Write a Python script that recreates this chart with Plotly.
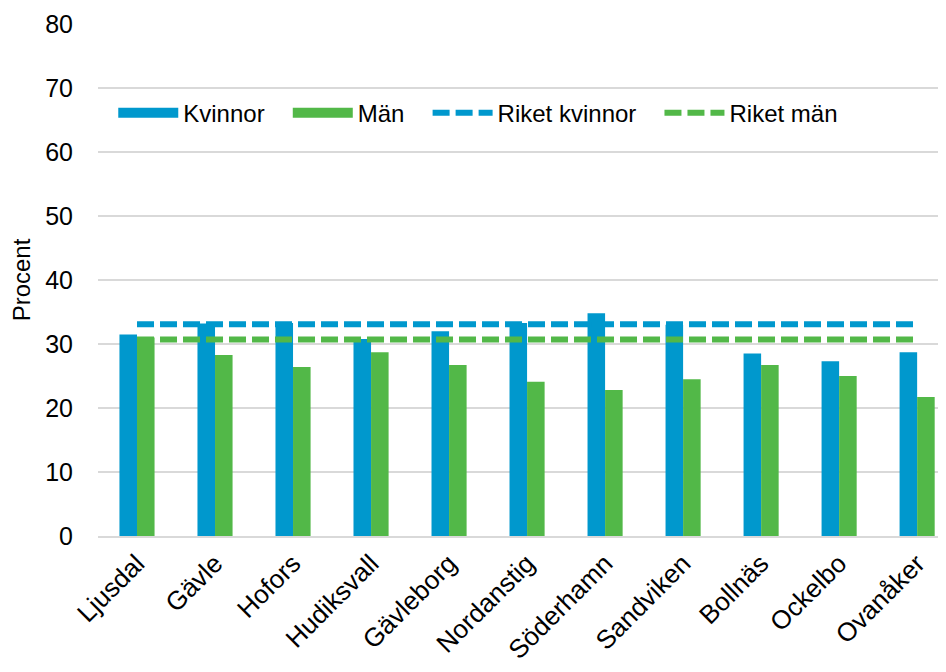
import plotly.graph_objects as go

categories = ["Ljusdal", "Gävle", "Hofors", "Hudiksvall", "Gävleborg", "Nordanstig",
              "Söderhamn", "Sandviken", "Bollnäs", "Ockelbo", "Ovanåker"]
kvinnor = [31.5, 33.2, 33.3, 30.8, 32.0, 33.3, 34.8, 33.0, 28.5, 27.3, 28.7]
man = [31.0, 28.3, 26.4, 28.7, 26.7, 24.1, 22.8, 24.5, 26.7, 25.0, 21.7]
riket_kvinnor = [33.1] * len(categories)
riket_man = [30.7] * len(categories)
legend_names = ["Kvinnor", "Män", "Riket kvinnor", "Riket män"]

BLUE = "#0098CD"
GREEN = "#52B848"
FONT = "Liberation Sans, Arial"
PAD = "\u00a0\u00a0\u2009"

fig = go.Figure()
fig.add_trace(go.Bar(x=categories, y=kvinnor, name=legend_names[0], marker_color=BLUE,
                     marker_line_width=0, showlegend=False, legendgroup="k"))
fig.add_trace(go.Bar(x=categories, y=man, name=legend_names[1], marker_color=GREEN,
                     marker_line_width=0, showlegend=False, legendgroup="m"))
# legend-only entries that show the bar series as wide swatches
fig.add_trace(go.Scatter(x=[None], y=[None], name=legend_names[0] + PAD, mode="lines",
                         line=dict(color=BLUE, width=14), legendgroup="k"))
fig.add_trace(go.Scatter(x=[None], y=[None], name=legend_names[1] + PAD, mode="lines",
                         line=dict(color=GREEN, width=14), legendgroup="m"))
fig.add_trace(go.Scatter(x=categories, y=riket_kvinnor, name=legend_names[2] + PAD,
                         mode="lines", line=dict(color=BLUE, width=6, dash="17px,6px")))
fig.add_trace(go.Scatter(x=categories, y=riket_man, name=legend_names[3],
                         mode="lines", line=dict(color=GREEN, width=6, dash="17px,6px")))

fig.update_layout(
    width=938, height=664,
    margin=dict(l=90, r=0, t=16, b=136),
    paper_bgcolor="white", plot_bgcolor="white",
    barmode="group", bargap=0.55, bargroupgap=0,
    font=dict(family=FONT, size=24, color="black"),
    showlegend=True,
    legend=dict(orientation="h", x=0.018, y=0.826, xanchor="left", yanchor="middle",
                bgcolor="rgba(255,255,255,0)", font=dict(size=24, family=FONT),
                itemwidth=60, traceorder="normal"),
    xaxis=dict(range=[-0.5, 10.37], tickangle=-45, showgrid=False, showline=True,
               linecolor="#D9D9D9", linewidth=2, ticks="",
               tickfont=dict(size=26, family=FONT)),
    yaxis=dict(range=[0, 80], dtick=10, showgrid=True, gridcolor="#D9D9D9", gridwidth=2,
               zeroline=False, ticks="", ticklabelstandoff=24,
               tickfont=dict(size=25, family=FONT),
               title=dict(text="Procent", font=dict(size=24, family=FONT), standoff=10)),
)

fig.write_html("out.html")
